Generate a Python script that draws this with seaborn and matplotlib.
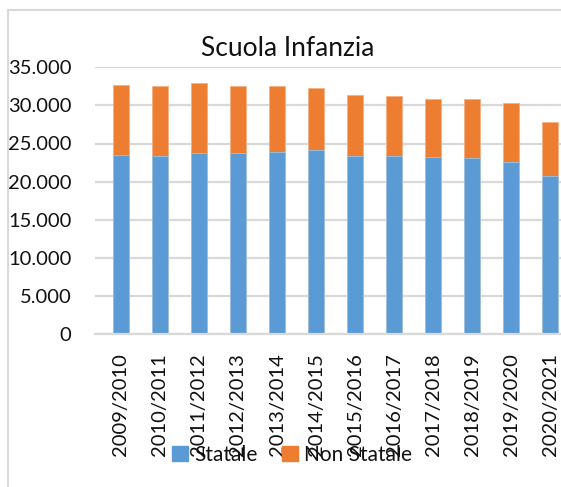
import pandas as pd
import matplotlib
matplotlib.use("Agg")
import matplotlib.pyplot as plt
import matplotlib.patches as mpatches
import seaborn as sns

# Data
years = ['2009/2010', '2010/2011', '2011/2012', '2012/2013', '2013/2014', '2014/2015',
         '2015/2016', '2016/2017', '2017/2018', '2018/2019', '2019/2020', '2020/2021']
statale = [23500, 23400, 23700, 23700, 23900, 24200, 23400, 23400, 23200, 23100, 22600, 20700]
non_statale = [9200, 9100, 9200, 8900, 8600, 8100, 8000, 7800, 7600, 7700, 7700, 7100]
y_ticks = [0, 5000, 10000, 15000, 20000, 25000, 30000, 35000]

df = pd.DataFrame({'Anno': years, 'Statale': statale, 'Non Statale': non_statale})
df['Totale'] = df['Statale'] + df['Non Statale']

blue = '#5B9BD5'
orange = '#ED7D31'
grid_col = '#D9D9D9'

sns.set_theme(style='white')
plt.rcParams['font.family'] = ['Lato', 'DejaVu Sans']

fig = plt.figure(figsize=(5.61, 4.87), dpi=100)
ax = fig.add_axes([95 / 561, 1 - 334 / 487, 1 - 95 / 561, (334 - 67.3) / 487])

# stacked bars: total (orange) underneath, statale (blue) on top
sns.barplot(data=df, x='Anno', y='Totale', color=orange, width=0.41, ax=ax,
            saturation=1, edgecolor='#F4B183', linewidth=0.6)
sns.barplot(data=df, x='Anno', y='Statale', color=blue, width=0.41, ax=ax,
            saturation=1, edgecolor='#9DC3E6', linewidth=0.6)

ax.set_ylim(0, 35000)
ax.set_xlim(-0.66, 11.27)
ax.set_yticks(y_ticks)
ax.set_yticklabels([f'{v:,}'.replace(',', '.') for v in y_ticks], fontsize=14.5)
ax.tick_params(axis='y', length=0, pad=17, labelcolor='#111111')
ax.tick_params(axis='x', length=0, pad=14, labelrotation=90, labelsize=14.5, labelcolor='#111111')
ax.set_xlabel('')
ax.set_ylabel('')
ax.yaxis.grid(True, color=grid_col, linewidth=1.6)
ax.set_axisbelow(True)
for s in ['top', 'right', 'left']:
    ax.spines[s].set_visible(False)
ax.spines['bottom'].set_color(grid_col)
ax.spines['bottom'].set_linewidth(1.6)

fig.text(288 / 561, 1 - 48 / 487, 'Scuola Infanzia', ha='center', va='center',
         fontsize=19, color='#111111')

handles = [mpatches.Patch(color=blue, label='Statale'),
           mpatches.Patch(color=orange, label='Non Statale')]
fig.legend(handles=handles, loc='center', bbox_to_anchor=(292 / 561, 1 - 455 / 487),
           ncol=2, frameon=False, fontsize=15, handlelength=0.75, handleheight=0.75,
           handletextpad=0.3, columnspacing=1.2, labelcolor='#111111')

# outer chart border (left and top visible, rest cropped)
fig.patches.append(mpatches.Rectangle((8 / 561, -0.1), 1.2, 1 - 10 / 487 + 0.1,
                                      transform=fig.transFigure, fill=False,
                                      edgecolor=grid_col, linewidth=1.5))

fig.savefig('out.png', dpi=100)
